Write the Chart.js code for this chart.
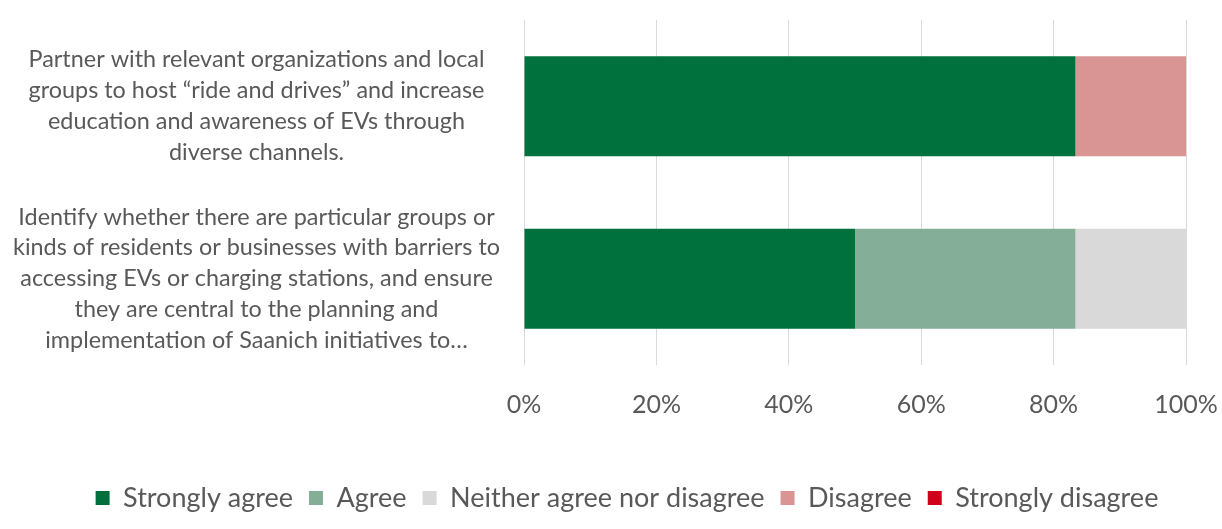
<!DOCTYPE html>
<html>
<head>
<meta charset="utf-8">
<script src="https://cdn.jsdelivr.net/npm/chart.js@4"></script>
<style>
  body { margin: 0; background: #ffffff; }
  #wrap { width: 1222px; height: 529px; }
</style>
</head>
<body>
<div id="wrap"><canvas id="surveyChart" width="1222" height="529"></canvas></div>
<script>
// Survey responses (% of respondents) per action
const actions = [
    ['Partner with relevant organizations and local', 'groups to host \u201cride and drives\u201d and increase', 'education and awareness of EVs through', 'diverse channels.'],
    ['Identify whether there are particular groups or', 'kinds of residents or businesses with barriers to', 'accessing EVs or charging stations, and ensure', 'they are central to the planning and', 'implementation of Saanich initiatives to\u2026']
];
const responseLabels = ['Strongly agree', 'Agree', 'Neither agree nor disagree', 'Disagree', 'Strongly disagree'];
const stronglyAgree = [83.3, 50.0];
const agree = [0, 33.3];
const neither = [0, 16.7];
const disagree = [16.7, 0];
const stronglyDisagree = [0, 0];
const xTicks = [0, 20, 40, 60, 80, 100];

const colors = ['#00703C', '#84AE97', '#D9D9D9', '#D99594', '#D0021B'];
const textGray = '#595959';
const fontFamily = 'Lato, "Liberation Sans", sans-serif';

const seriesValues = [stronglyAgree, agree, neither, disagree, stronglyDisagree];

document.addEventListener('DOMContentLoaded', function() {
    const ctx = document.getElementById('surveyChart');

    new Chart(ctx, {
        type: 'bar',
        data: {
            labels: actions,
            datasets: responseLabels.map((label, i) => ({
                label: label,
                data: seriesValues[i],
                backgroundColor: colors[i],
                borderWidth: 0,
                barPercentage: 0.58,
                categoryPercentage: 1
            }))
        },
        options: {
            indexAxis: 'y',
            responsive: false,
            animation: false,
            layout: {
                // negative right padding widens the legend row so it centres under the plot
                padding: { top: 20, right: -32, bottom: 7.5, left: 0 }
            },
            plugins: {
                legend: {
                    position: 'bottom',
                    labels: {
                        color: textGray,
                        font: { family: fontFamily, size: 27 },
                        boxWidth: 14,
                        boxHeight: 14,
                        padding: 16
                    }
                },
                tooltip: { enabled: false }
            },
            scales: {
                x: {
                    stacked: true,
                    min: 0,
                    max: 100,
                    grid: {
                        color: '#D9D9D9',
                        drawTicks: false
                    },
                    border: { display: false },
                    ticks: {
                        stepSize: 20,
                        padding: 25,
                        color: textGray,
                        font: { family: fontFamily, size: 25 },
                        callback: function(value) {
                            return xTicks.includes(value) ? value + '%' : '';
                        }
                    },
                    afterFit: function(scale) {
                        scale.height = 103.5;
                        scale.paddingRight = 36;
                        scale.paddingLeft = 0;
                    }
                },
                y: {
                    stacked: true,
                    grid: { display: false, drawTicks: false },
                    border: { display: false },
                    ticks: {
                        autoSkip: false,
                        crossAlign: 'center',
                        padding: 24,
                        color: textGray,
                        font: { family: fontFamily, size: 23.4, lineHeight: 1.32 }
                    },
                    afterFit: function(scale) {
                        // keep the long wrapped labels from shrinking the plot vertically
                        scale.width = 524;
                        scale.paddingTop = 0;
                        scale.paddingBottom = 0;
                    }
                }
            }
        }
    });
});
</script>
</body>
</html>
